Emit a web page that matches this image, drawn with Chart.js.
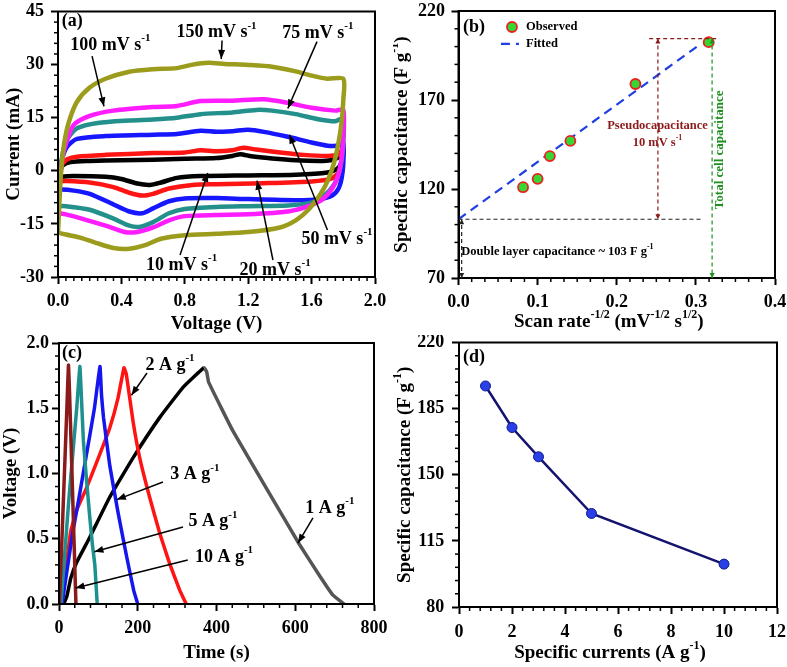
<!DOCTYPE html>
<html>
<head>
<meta charset="utf-8">
<title>Capacitance study</title>
<script src="https://cdn.jsdelivr.net/npm/chart.js@4.4.1/dist/chart.umd.min.js"></script>
<style>
  body { margin: 0; background: #fff; }
  #fig { position: relative; width: 787px; height: 667px; overflow: hidden; }
  #fig canvas { position: absolute; }
</style>
</head>
<body>
<div id="fig">
  <canvas id="cv" width="393" height="335" style="left:0;top:0"></canvas>
  <canvas id="fit" width="394" height="335" style="left:393px;top:0"></canvas>
  <canvas id="gcd" width="393" height="332" style="left:0;top:335px"></canvas>
  <canvas id="rate" width="394" height="332" style="left:393px;top:335px"></canvas>
</div>
<script>
// (a) CV loops: forward sweep then reverse sweep, V in volts, I in mA
const cv10V = [0, 0.01, 0.03, 0.08, 0.2, 0.4, 0.6, 0.8, 1.0, 1.1, 1.15, 1.22, 1.35, 1.5, 1.65, 1.72, 1.77, 1.8, 1.79, 1.76, 1.7, 1.5, 1.2, 0.9, 0.75, 0.65, 0.58, 0.5, 0.4, 0.3, 0.1, 0.02, 0];
const cv10I = [-2, -0.5, 1.5, 2.5, 2.8, 3, 3.1, 3.4, 3.6, 4.2, 4.7, 4.1, 3.5, 3, 2.8, 3, 3.8, 5.5, 2.5, 0.5, -0.5, -1.1, -1.3, -1.5, -2, -3.3, -4, -3.6, -2.3, -1.7, -1.5, -1.7, -2];
const cv20V = [0, 0.01, 0.03, 0.06, 0.12, 0.3, 0.6, 0.8, 0.9, 1.0, 1.1, 1.17, 1.25, 1.4, 1.55, 1.7, 1.77, 1.8, 1.79, 1.77, 1.72, 1.6, 1.3, 1.0, 0.85, 0.7, 0.6, 0.53, 0.45, 0.35, 0.2, 0.05, 0];
const cv20I = [-3, -0.5, 2, 3.3, 4, 4.5, 5, 5.2, 5.8, 5.5, 5.8, 6.5, 6, 5.2, 4.5, 4.2, 4.6, 6.5, 2.5, -0.5, -2.3, -3, -3.5, -3.8, -4, -5, -6.5, -7, -6.2, -4.6, -3.3, -2.9, -3];
const cv50V = [0, 0.01, 0.03, 0.06, 0.12, 0.3, 0.6, 0.75, 0.9, 1.0, 1.1, 1.2, 1.3, 1.45, 1.6, 1.7, 1.78, 1.8, 1.8, 1.79, 1.77, 1.73, 1.65, 1.5, 1.2, 1.0, 0.8, 0.7, 0.6, 0.53, 0.45, 0.35, 0.2, 0.1, 0.02, 0];
const cv50I = [-5.5, -0.5, 4, 7, 9, 9.8, 10.2, 10.4, 11.3, 11, 11.2, 11.6, 11, 9.6, 8, 7.1, 7.2, 8, 2, -2, -5, -7, -8, -8.3, -8, -7.7, -7.8, -8.6, -10.6, -12, -11.5, -9.5, -6.5, -5.6, -5.3, -5.5];
const cv75V = [0, 0.01, 0.03, 0.06, 0.12, 0.25, 0.45, 0.6, 0.75, 0.9, 1.1, 1.25, 1.35, 1.5, 1.65, 1.75, 1.8, 1.8, 1.79, 1.77, 1.74, 1.68, 1.6, 1.45, 1.2, 1.0, 0.8, 0.7, 0.6, 0.52, 0.45, 0.35, 0.2, 0.05, 0];
const cv75I = [-10, -2, 5, 9, 12, 13.5, 14.2, 14.5, 15, 16, 16.5, 17.2, 17, 16, 14.5, 14, 14.8, 8, 3, -1, -4, -7, -9, -9.8, -10, -10.2, -10.8, -12, -14.5, -15.8, -15.5, -13.5, -11, -10, -10];
const cv100V = [0, 0.01, 0.03, 0.06, 0.1, 0.2, 0.35, 0.6, 0.75, 0.9, 1.1, 1.3, 1.45, 1.6, 1.75, 1.8, 1.8, 1.79, 1.77, 1.73, 1.67, 1.58, 1.45, 1.2, 1.0, 0.8, 0.7, 0.6, 0.5, 0.42, 0.3, 0.15, 0.05, 0];
const cv100I = [-12, -4, 4, 9, 13, 15.5, 17, 18, 18.3, 19.7, 19.8, 20.2, 19.2, 17.8, 17, 17.2, 10, 4, -1, -5, -8, -10, -11.5, -12.3, -12.5, -12.8, -14, -16, -17.3, -17.3, -15.5, -13.5, -12.3, -12];
const cv150V = [0, 0.01, 0.02, 0.04, 0.07, 0.12, 0.2, 0.3, 0.45, 0.6, 0.75, 0.85, 0.95, 1.05, 1.2, 1.35, 1.5, 1.6, 1.7, 1.8, 1.8, 1.79, 1.77, 1.74, 1.7, 1.65, 1.58, 1.5, 1.4, 1.2, 1.0, 0.8, 0.65, 0.55, 0.45, 0.35, 0.25, 0.15, 0.05, 0];
const cv150I = [-17.5, -8, 0, 8, 14, 19.5, 23.5, 26, 28, 28.7, 29, 30, 30.5, 30.2, 29.9, 29.4, 28.1, 26.9, 26, 26, 20, 14, 8, 2, -3, -7, -11, -14, -16, -17.3, -17.8, -18.2, -19.2, -21, -22, -21.8, -20.5, -19, -18, -17.5];

// (b) capacitance against inverse square root of scan rate
const invSqrtRate = [0.0816, 0.1, 0.1155, 0.1414, 0.2236, 0.3162];
const capByRate = [121, 125.7, 138.5, 147, 179, 202.5];
const fitX = [0, 0.303];
const fitY = [103, 200.5];

// (c) charge / discharge curves, t in s, V in volts
const gcd1T = [12, 20, 30, 45, 78, 129, 188, 256, 315, 368, 375, 380, 441, 526, 610, 661, 695, 724];
const gcd1V = [0, 0.06, 0.2, 0.32, 0.51, 0.82, 1.12, 1.43, 1.66, 1.81, 1.78, 1.7, 1.33, 0.89, 0.46, 0.22, 0.07, 0];
const gcd2T = [7, 19, 30, 45, 70, 104, 129, 150, 165, 171, 188, 205, 230, 256, 281, 306, 323];
const gcd2V = [0, 0.31, 0.56, 0.72, 0.89, 1.15, 1.35, 1.58, 1.81, 1.76, 1.4, 1.12, 0.82, 0.54, 0.31, 0.11, 0];
const gcd3T = [8, 15, 25, 35, 50, 70, 90, 104, 108, 113, 129, 150, 172, 190, 200];
const gcd3V = [0, 0.15, 0.35, 0.55, 0.8, 1.15, 1.5, 1.82, 1.6, 1.43, 1.06, 0.7, 0.36, 0.1, 0];
const gcd5T = [5, 15, 25, 35, 45, 53, 57, 62, 70, 78, 85, 91, 97];
const gcd5V = [0, 0.4, 0.8, 1.15, 1.5, 1.82, 1.58, 1.25, 0.95, 0.67, 0.45, 0.3, 0];
const gcd10T = [1, 5, 10, 15, 20, 24, 27, 31, 35, 39, 43];
const gcd10V = [0, 0.3, 0.7, 1.1, 1.5, 1.83, 1.6, 1.2, 0.8, 0.4, 0];

// (d) capacitance against current density
const currents = [1, 2, 3, 5, 10];
const capByCurrent = [197, 175, 159.5, 129.5, 102.7];

const FONT = '"Liberation Serif", "Times New Roman", serif';
Chart.defaults.font.family = FONT;
Chart.defaults.font.weight = 'bold';
Chart.defaults.font.size = 18;
Chart.defaults.color = '#000';

const pts = (xs, ys) => xs.map((x, i) => ({ x, y: ys[i] }));

// text with ^{...} superscripts
function drawRich(ctx, x, y, text, o) {
  const size = o.size || 18;
  const parts = [];
  text.split(/(\^\{[^}]*\})/).forEach(p => {
    if (!p) return;
    if (p.startsWith('^{')) parts.push({ t: p.slice(2, -1), sup: true });
    else parts.push({ t: p, sup: false });
  });
  const fontOf = sup => `bold ${sup ? Math.round(size * 0.62) : size}px ${FONT}`;
  ctx.save();
  ctx.translate(x, y);
  if (o.rotate) ctx.rotate(o.rotate);
  let w = 0;
  parts.forEach(p => { ctx.font = fontOf(p.sup); p.w = ctx.measureText(p.t).width; w += p.w; });
  let cx = o.align === 'left' ? 0 : o.align === 'right' ? -w : -w / 2;
  ctx.fillStyle = o.color || '#000';
  ctx.textBaseline = 'middle';
  ctx.textAlign = 'left';
  parts.forEach(p => {
    ctx.font = fontOf(p.sup);
    ctx.fillText(p.t, cx, p.sup ? -size * 0.38 : 0);
    cx += p.w;
  });
  ctx.restore();
}

function head(ctx, x1, y1, x2, y2, len, wid) {
  const a = Math.atan2(y2 - y1, x2 - x1);
  const bx = x2 - len * Math.cos(a), by = y2 - len * Math.sin(a);
  ctx.beginPath();
  ctx.moveTo(x2, y2);
  ctx.lineTo(bx + wid * Math.sin(a), by - wid * Math.cos(a));
  ctx.lineTo(bx - wid * Math.sin(a), by + wid * Math.cos(a));
  ctx.closePath();
  ctx.fill();
}

// frame, minor ticks, notes, arrows, custom titles and legend
function decor(spec) {
  return {
    id: 'decor',
    afterDraw(chart) {
      const { ctx, chartArea: a, scales } = chart;
      const X = v => scales.x.getPixelForValue(v), Y = v => scales.y.getPixelForValue(v);
      ctx.save();
      ctx.strokeStyle = '#000';
      ctx.lineWidth = 1.5;
      ['x', 'y'].forEach(id => {
        const s = scales[id], n = spec.minor[id];
        const major = s.ticks.map(t => t.value);
        for (let i = 0; i < major.length - 1; i++) {
          const d = (major[i + 1] - major[i]) / (n + 1);
          for (let k = 1; k <= n; k++) {
            const p = s.getPixelForValue(major[i] + k * d);
            ctx.beginPath();
            if (id === 'x') { ctx.moveTo(p, a.bottom); ctx.lineTo(p, a.bottom + 4); }
            else { ctx.moveTo(a.left, p); ctx.lineTo(a.left - 4, p); }
            ctx.stroke();
          }
        }
      });
      ctx.lineWidth = 2;
      ctx.strokeRect(a.left, a.top, a.right - a.left, a.bottom - a.top);

      (spec.lines || []).forEach(l => {
        const x1 = X(l.x1), y1 = Y(l.y1), x2 = X(l.x2), y2 = Y(l.y2);
        ctx.strokeStyle = ctx.fillStyle = l.color || '#000';
        ctx.lineWidth = l.width || 1.5;
        ctx.setLineDash(l.dash || []);
        ctx.beginPath(); ctx.moveTo(x1, y1); ctx.lineTo(x2, y2); ctx.stroke();
        ctx.setLineDash([]);
        const hl = l.hl || 9, hw = l.hw || 3.5;
        if (l.head === 'end' || l.head === 'both') head(ctx, x1, y1, x2, y2, hl, hw);
        if (l.head === 'both') head(ctx, x2, y2, x1, y1, hl, hw);
      });

      (spec.legend || []).forEach(e => {
        const ds = chart.data.datasets[e.ds];
        const px = X(e.x), py = Y(e.y);
        if (ds.showLine) {
          ctx.strokeStyle = ds.borderColor; ctx.lineWidth = ds.borderWidth;
          ctx.setLineDash(ds.borderDash || []);
          ctx.beginPath(); ctx.moveTo(px - 9, py); ctx.lineTo(px + 9, py); ctx.stroke();
          ctx.setLineDash([]);
        } else {
          ctx.fillStyle = ds.pointBackgroundColor; ctx.strokeStyle = ds.pointBorderColor;
          ctx.lineWidth = ds.pointBorderWidth;
          ctx.beginPath(); ctx.arc(px, py, ds.pointRadius, 0, Math.PI * 2); ctx.fill(); ctx.stroke();
        }
        drawRich(ctx, X(e.tx), py, ds.label, { size: 12.5, align: 'left' });
      });

      (spec.texts || []).forEach(t => drawRich(ctx, X(t.x), Y(t.y), t.text, t));

      if (spec.xTitle) drawRich(ctx, (a.left + a.right) / 2 + (spec.xTitle.dx || 0), spec.xTitle.y, spec.xTitle.text, { size: 19 });
      if (spec.yTitle) drawRich(ctx, spec.yTitle.x, (a.top + a.bottom) / 2, spec.yTitle.text, { size: 19, rotate: -Math.PI / 2 });
      ctx.restore();
    }
  };
}

function axis(o) {
  return {
    type: 'linear', min: o.min, max: o.max,
    ticks: {
      stepSize: o.step, padding: o.pad, autoSkip: false, maxRotation: 0, color: '#000',
      font: { size: 18, weight: 'bold' },
      callback: v => Number(v).toFixed(o.dec || 0)
    },
    grid: { drawOnChartArea: false, tickLength: 7, tickWidth: 2, tickColor: '#000' },
    border: { width: 2, color: '#000' },
    title: o.title
      ? { display: true, text: o.title, color: '#000', font: { size: 19, weight: 'bold' }, padding: o.titlePad }
      : { display: false },
    afterFit(s) {
      if (s.isHorizontal()) s.height = o.box; else s.width = o.box;
      s.paddingLeft = s.paddingRight = s.paddingTop = s.paddingBottom = 0;
    }
  };
}

function panel(id, datasets, x, y, pad, spec) {
  return new Chart(document.getElementById(id), {
    type: 'scatter',
    data: { datasets },
    options: {
      responsive: false, animation: false, events: [],
      layout: { padding: pad },
      scales: { x, y },
      plugins: { legend: { display: false }, tooltip: { enabled: false } }
    },
    plugins: [decor(spec)]
  });
}

const loop = (label, xs, ys, color, w, tension) => ({
  label, data: pts(xs, ys), showLine: true, borderColor: color, backgroundColor: color,
  borderWidth: w, pointRadius: 0, tension
});

// (a)
panel('cv', [
  loop('150 mV s-1', cv150V, cv150I, '#9b9b1c', 4.5, 0.25),
  loop('100 mV s-1', cv100V, cv100I, '#ff1cff', 4.5, 0.25),
  loop('75 mV s-1', cv75V, cv75I, '#23908c', 4.5, 0.25),
  loop('50 mV s-1', cv50V, cv50I, '#1616ff', 4.5, 0.25),
  loop('20 mV s-1', cv20V, cv20I, '#ff1414', 4.5, 0.25),
  loop('10 mV s-1', cv10V, cv10I, '#000000', 4.5, 0.25)
],
  axis({ min: 0, max: 2, step: 0.4, dec: 1, pad: 7, box: 58, title: 'Voltage (V)', titlePad: { top: 0, bottom: 0 } }),
  axis({ min: -30, max: 45, step: 15, pad: 7, box: 58, title: 'Current (mA)', titlePad: { top: 2.6, bottom: 0 } }),
  { left: 0, top: 11.5, right: 18, bottom: 0 },
  {
    minor: { x: 7, y: 4 },
    texts: [
      { x: 0.023, y: 42.3, text: '(a)', align: 'left' },
      { x: 1.0, y: 39, text: '150 mV s^{-1}' },
      { x: 0.33, y: 35.5, text: '100 mV s^{-1}' },
      { x: 1.64, y: 38.9, text: '75 mV s^{-1}' },
      { x: 1.76, y: -19.3, text: '50 mV s^{-1}' },
      { x: 0.78, y: -26.6, text: '10 mV s^{-1}' },
      { x: 1.37, y: -28, text: '20 mV s^{-1}' }
    ],
    lines: [
      { x1: 1.035, y1: 36.8, x2: 1.03, y2: 31.6, head: 'end' },
      { x1: 0.215, y1: 32.4, x2: 0.29, y2: 18.2, head: 'end' },
      { x1: 1.634, y1: 36.5, x2: 1.45, y2: 17.6, head: 'end' },
      { x1: 1.70, y1: -16.7, x2: 1.46, y2: 10.2, head: 'end' },
      { x1: 0.77, y1: -23.8, x2: 0.945, y2: -0.6, head: 'end' },
      { x1: 1.356, y1: -25.2, x2: 1.256, y2: -2.8, head: 'end' }
    ]
  });

// (b)
panel('fit', [
  { label: 'Observed', data: pts(invSqrtRate, capByRate), showLine: false, pointRadius: 5,
    pointBackgroundColor: '#36d636', pointBorderColor: '#e8231f', pointBorderWidth: 1.8 },
  { label: 'Fitted', data: pts(fitX, fitY), showLine: true, borderColor: '#1f3fe0', borderWidth: 2.2,
    borderDash: [9, 6], pointRadius: 0 }
],
  axis({ min: 0, max: 0.4, step: 0.1, dec: 1, pad: 6.2, box: 57 }),
  axis({ min: 70, max: 220, step: 50, pad: 6.5, box: 65.5 }),
  { left: 0, top: 11, right: 12, bottom: 0 },
  {
    minor: { x: 5, y: 4 },
    xTitle: { text: 'Scan rate^{-1/2} (mV^{-1/2} s^{1/2})', y: 322, dx: -8 },
    yTitle: { text: 'Specific capacitance (F g^{-1})', x: 9 },
    legend: [
      { ds: 0, x: 0.0676, y: 211, tx: 0.0853 },
      { ds: 1, x: 0.065, y: 201.5, tx: 0.0853 }
    ],
    lines: [
      { x1: 0, y1: 103, x2: 0.307, y2: 103, color: '#222', dash: [4, 3], width: 1.2 },
      { x1: 0.004, y1: 70, x2: 0.004, y2: 103, color: '#222', dash: [4, 3], width: 1.2, head: 'both', hl: 5, hw: 2.5 },
      { x1: 0.241, y1: 204.5, x2: 0.328, y2: 204.5, color: '#8b1a1a', dash: [4, 3], width: 1.2 },
      { x1: 0.252, y1: 204.5, x2: 0.252, y2: 103, color: '#8b1a1a', dash: [4, 3], width: 1.2, head: 'both', hl: 5, hw: 2.5 },
      { x1: 0.3205, y1: 204.5, x2: 0.3205, y2: 70, color: '#1f8f1f', dash: [4, 3], width: 1.2, head: 'both', hl: 5, hw: 2.5 }
    ],
    texts: [
      { x: 0.0057, y: 211, text: '(b)', align: 'left' },
      { x: 0.0035, y: 85, text: 'Double layer capacitance ~ 103 F g^{-1}', size: 12.5, align: 'left' },
      { x: 0.2515, y: 155.5, text: 'Pseudocapacitance', size: 12.5, color: '#8b1a1a' },
      { x: 0.2515, y: 146, text: '10 mV s^{-1}', size: 12.5, color: '#8b1a1a' },
      { x: 0.33, y: 142, text: 'Total cell capacitance', size: 13, color: '#1f8f1f', rotate: -Math.PI / 2 }
    ]
  });

// (c)
const peak1 = gcd1V.indexOf(Math.max(...gcd1V));
panel('gcd', [
  loop('10 A g-1', gcd10T, gcd10V, '#8b1a1a', 3.5, 0.1),
  loop('5 A g-1', gcd5T, gcd5V, '#1f9090', 3.5, 0.1),
  loop('3 A g-1', gcd3T, gcd3V, '#1515f0', 3.5, 0.1),
  loop('2 A g-1', gcd2T, gcd2V, '#ff1414', 3.5, 0.1),
  Object.assign(loop('1 A g-1', gcd1T, gcd1V, '#000000', 3.5, 0.1),
    { segment: { borderColor: c => c.p0DataIndex >= peak1 ? '#555555' : '#000000' } })
],
  axis({ min: 0, max: 800, step: 200, pad: 6.2, box: 63, title: 'Time (s)', titlePad: { top: 0, bottom: 2.6 } }),
  axis({ min: 0, max: 2, step: 0.5, dec: 1, pad: 3, box: 59, title: 'Voltage (V)', titlePad: { top: 0, bottom: 0 } }),
  { left: 0, top: 8, right: 19, bottom: 0 },
  {
    minor: { x: 4, y: 4 },
    texts: [
      { x: 7.6, y: 1.92, text: '(c)', align: 'left' },
      { x: 282, y: 1.83, text: '2 A g^{-1}' },
      { x: 345, y: 0.99, text: '3 A g^{-1}' },
      { x: 391, y: 0.63, text: '5 A g^{-1}' },
      { x: 419, y: 0.36, text: '10 A g^{-1}' },
      { x: 688, y: 0.735, text: '1 A g^{-1}' }
    ],
    lines: [
      { x1: 223.5, y1: 1.77, x2: 184, y2: 1.6, head: 'end' },
      { x1: 264, y1: 0.935, x2: 147, y2: 0.8, head: 'end' },
      { x1: 315, y1: 0.59, x2: 90, y2: 0.4, head: 'end' },
      { x1: 327, y1: 0.337, x2: 42, y2: 0.123, head: 'end' },
      { x1: 645, y1: 0.66, x2: 607, y2: 0.467, head: 'end' }
    ]
  });

// (d)
panel('rate', [
  { label: 'Specific capacitance', data: pts(currents, capByCurrent), showLine: true,
    borderColor: '#141470', borderWidth: 2.5, pointRadius: 5,
    pointBackgroundColor: '#2a3fe6', pointBorderColor: '#0d1a8c', pointBorderWidth: 1 }
],
  axis({ min: 0, max: 12, step: 2, pad: 7.2, box: 60 }),
  axis({ min: 80, max: 220, step: 35, pad: 7.7, box: 66 }),
  { left: 0, top: 7.5, right: 10, bottom: 0 },
  {
    minor: { x: 4, y: 4 },
    xTitle: { text: 'Specific currents (A g^{-1})', y: 318, dx: -8 },
    yTitle: { text: 'Specific capacitance (F g^{-1})', x: 12 },
    texts: [ { x: 0.15, y: 212.3, text: '(d)', align: 'left' } ]
  });
</script>
</body>
</html>
